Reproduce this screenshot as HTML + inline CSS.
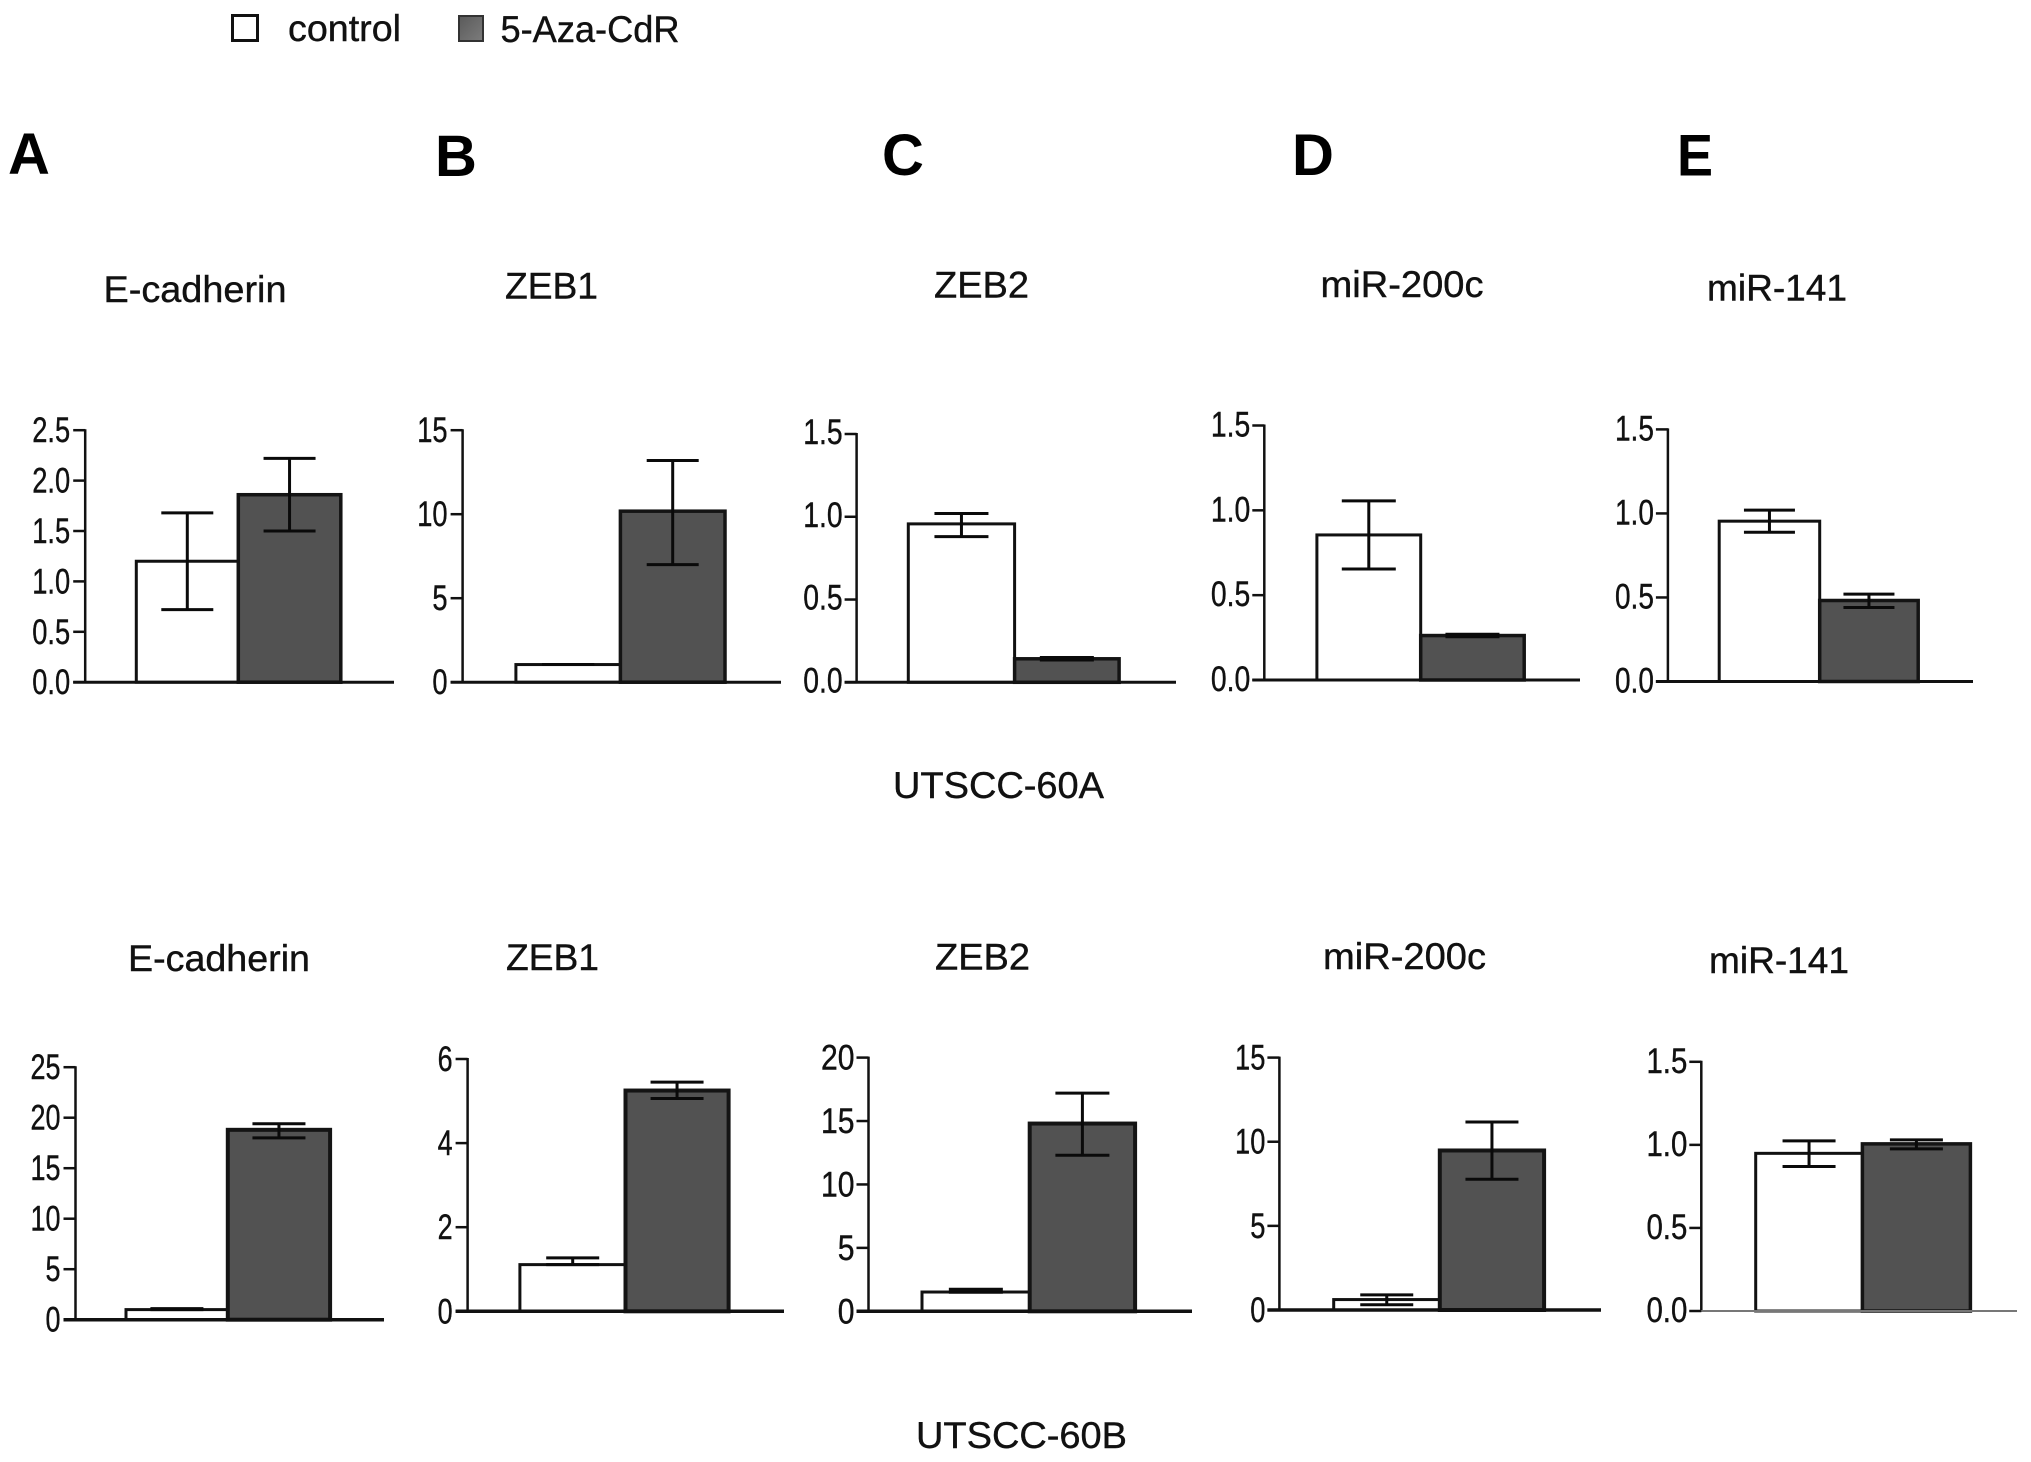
<!DOCTYPE html>
<html lang="en">
<head>
<meta charset="utf-8">
<title>E-cadherin, ZEB1, ZEB2, miR-200c and miR-141 expression</title>
<style>
  html, body { margin: 0; padding: 0; background: #fff; }
  svg { display: block; }
  text { font-family: "Liberation Sans", sans-serif; fill: #111; }
  .title { font-size: 37px; stroke: #111; stroke-width: 0.4px; }
  .letter { font-size: 58px; font-weight: bold; fill: #000; }
  .tick { font-size: 35px; text-anchor: end; stroke: #111; stroke-width: 0.4px; }
</style>
</head>
<body>
<svg id="chart" xmlns="http://www.w3.org/2000/svg" width="2031" height="1462" viewBox="0 0 2031 1462">
  <defs>
    <linearGradient id="swatch-fill" x1="0" y1="0" x2="1" y2="1">
      <stop offset="0" stop-color="#5a5a5a"/>
      <stop offset="1" stop-color="#7c7c7c"/>
    </linearGradient>
  </defs>
  <rect width="2031" height="1462" fill="#fff"/>

  <g>
    <rect x="232.5" y="15.5" width="25" height="25" fill="#fff" stroke="#111" stroke-width="3"/>
    <text class="title" x="288" y="41" textLength="113" lengthAdjust="spacingAndGlyphs">control</text>
    <rect x="459" y="16" width="24" height="25" fill="url(#swatch-fill)" stroke="#333" stroke-width="2"/>
    <text class="title" x="500.5" y="42" textLength="179" lengthAdjust="spacingAndGlyphs">5-Aza-CdR</text>
  </g>

  <text class="letter" x="8" y="174">A</text>
  <text class="letter" x="435" y="176">B</text>
  <text class="letter" x="882" y="175">C</text>
  <text class="letter" x="1292" y="175">D</text>
  <text class="letter" x="1677" y="175.5" textLength="36" lengthAdjust="spacingAndGlyphs">E</text>

  <text class="title" x="103.5" y="302" textLength="183" lengthAdjust="spacingAndGlyphs">E-cadherin</text>
  <text class="title" x="505" y="298.5" textLength="93" lengthAdjust="spacingAndGlyphs">ZEB1</text>
  <text class="title" x="934" y="297.5" textLength="95" lengthAdjust="spacingAndGlyphs">ZEB2</text>
  <text class="title" x="1320.5" y="297" textLength="163" lengthAdjust="spacingAndGlyphs">miR-200c</text>
  <text class="title" x="1707" y="300.5" textLength="140" lengthAdjust="spacingAndGlyphs">miR-141</text>
  <text class="title" x="893" y="798" textLength="211" lengthAdjust="spacingAndGlyphs">UTSCC-60A</text>

  <text class="title" x="128" y="971" textLength="182" lengthAdjust="spacingAndGlyphs">E-cadherin</text>
  <text class="title" x="506" y="970" textLength="93" lengthAdjust="spacingAndGlyphs">ZEB1</text>
  <text class="title" x="935" y="969.5" textLength="95" lengthAdjust="spacingAndGlyphs">ZEB2</text>
  <text class="title" x="1323" y="969" textLength="163" lengthAdjust="spacingAndGlyphs">miR-200c</text>
  <text class="title" x="1709" y="973" textLength="140" lengthAdjust="spacingAndGlyphs">miR-141</text>
  <text class="title" x="916" y="1448" textLength="211" lengthAdjust="spacingAndGlyphs">UTSCC-60B</text>
</svg>

<script>
// ---- Data ----
const panelNames = ['e-cadherin-60a', 'zeb1-60a', 'zeb2-60a', 'mir-200c-60a', 'mir-141-60a',
                    'e-cadherin-60b', 'zeb1-60b', 'zeb2-60b', 'mir-200c-60b', 'mir-141-60b'];
const axisMaxima = [2.5, 15, 1.5, 1.5, 1.5, 25, 6, 20, 15, 1.5];
const tickLabels = [
  ['0.0', '0.5', '1.0', '1.5', '2.0', '2.5'],
  ['0', '5', '10', '15'],
  ['0.0', '0.5', '1.0', '1.5'],
  ['0.0', '0.5', '1.0', '1.5'],
  ['0.0', '0.5', '1.0', '1.5'],
  ['0', '5', '10', '15', '20', '25'],
  ['0', '2', '4', '6'],
  ['0', '5', '10', '15', '20'],
  ['0', '5', '10', '15'],
  ['0.0', '0.5', '1.0', '1.5']
];
const controlMeans   = [1.2, 1.05, 0.957, 0.855, 0.954, 1.0, 1.11, 1.52, 0.62, 0.949];
const controlUpper   = [1.68, 1.05, 1.02, 1.056, 1.02, 1.1, 1.27, 1.74, 0.9, 1.024];
const controlLower   = [0.72, 1.05, 0.88, 0.654, 0.888, 1.0, 1.11, 1.5, 0.31, 0.87];
const treatedMeans   = [1.86, 10.18, 0.142, 0.262, 0.482, 18.8, 5.25, 14.8, 9.48, 1.006];
const treatedUpper   = [2.22, 13.2, 0.15, 0.27, 0.52, 19.4, 5.45, 17.2, 11.17, 1.03];
const treatedLower   = [1.5, 7.0, 0.135, 0.255, 0.44, 18.0, 5.06, 12.3, 7.77, 0.976];

// ---- Page layout for each small multiple (not data) ----
const frames = [
  { axisX: 85.2,   top: 430.2,  bottom: 682.2,  lineEnd: 394,    barL: 136.3,  barM: 238.3,  barR: 340.8,  squeeze: 0.78, labelDx: 0, labelDy: 12, caps: 52, lw: 3 },
  { axisX: 462.6,  top: 430.2,  bottom: 682.2,  lineEnd: 781,    barL: 515.9,  barM: 620.4,  barR: 725,    squeeze: 0.78, labelDx: 0, labelDy: 12, caps: 52, lw: 3 },
  { axisX: 856.6,  top: 434,    bottom: 682.3,  lineEnd: 1176,   barL: 908.3,  barM: 1014.6, barR: 1119.1, squeeze: 0.81, labelDx: 1, labelDy: 10, caps: 54, lw: 3 },
  { axisX: 1264.3, top: 425.5,  bottom: 680,    lineEnd: 1580,   barL: 1316.9, barM: 1420.7, barR: 1524.2, squeeze: 0.81, labelDx: 1, labelDy: 11, caps: 54, lw: 3 },
  { axisX: 1667.9, top: 429.4,  bottom: 681.5,  lineEnd: 1973,   barL: 1719.2, barM: 1819.7, barR: 1918.2, squeeze: 0.80, labelDx: 1, labelDy: 11, caps: 51, lw: 3 },
  { axisX: 75.5,   top: 1067.2, bottom: 1319.7, lineEnd: 384,    barL: 126,    barM: 227.8,  barR: 330.1,  squeeze: 0.77, labelDx: 0, labelDy: 12, caps: 53, lw: 3.5 },
  { axisX: 467.6,  top: 1059,   bottom: 1311.3, lineEnd: 784,    barL: 519.9,  barM: 625.5,  barR: 728.6,  squeeze: 0.77, labelDx: 0, labelDy: 12, caps: 53, lw: 3.5 },
  { axisX: 868.5,  top: 1057.6, bottom: 1311.3, lineEnd: 1192,   barL: 922,    barM: 1029.7, barR: 1135.1, squeeze: 0.86, labelDx: 1, labelDy: 12, caps: 54, lw: 3.5 },
  { axisX: 1279.4, top: 1057.6, bottom: 1310,   lineEnd: 1601,   barL: 1333.7, barM: 1439.8, barR: 1544.1, squeeze: 0.78, labelDx: 1, labelDy: 12, caps: 53, lw: 3.5 },
  { axisX: 1701.3, top: 1061.8, bottom: 1311,   lineEnd: 2017,   barL: 1755.7, barM: 1862.4, barR: 1970.4, squeeze: 0.84, labelDx: 1, labelDy: 11, caps: 53, lw: 3 }
];

const svgNS = 'http://www.w3.org/2000/svg';
const root = document.getElementById('chart');

function make(tag, attrs, parent) {
  const el = document.createElementNS(svgNS, tag);
  for (const key in attrs) el.setAttribute(key, attrs[key]);
  parent.appendChild(el);
  return el;
}

function drawErrorBar(group, x, capWidth, yHigh, yLow, width, name) {
  const bar = make('g', { stroke: '#0a0a0a', 'stroke-width': width, fill: 'none' }, group);
  
  
  make('line', { x1: x, x2: x, y1: yHigh, y2: yLow }, bar);
  make('line', { x1: x - capWidth / 2, x2: x + capWidth / 2, y1: yHigh, y2: yHigh }, bar);
  make('line', { x1: x - capWidth / 2, x2: x + capWidth / 2, y1: yLow, y2: yLow }, bar);
}

panelNames.forEach(function (panelName, i) {
  const f = frames[i];
  const maxValue = axisMaxima[i];
  const yScale = function (v) { return f.bottom - (v / maxValue) * (f.bottom - f.top); };
  const labels = tickLabels[i];
  const tickLeft = f.axisX - 12;

  const group = make('g', {}, root);
  
  

  // Control bar
  const controlBar = make('rect', {
    x: f.barL, y: yScale(controlMeans[i]),
    width: f.barM - f.barL, height: f.bottom - yScale(controlMeans[i]),
    fill: '#fff', stroke: '#111', 'stroke-width': 3
  }, group);
  
  

  // Treated bar
  const treatedBar = make('rect', {
    x: f.barM, y: yScale(treatedMeans[i]),
    width: f.barR - f.barM, height: f.bottom - yScale(treatedMeans[i]),
    fill: '#525252', stroke: '#141414', 'stroke-width': f.lw + 0.5
  }, group);
  
  

  // Error bars
  drawErrorBar(group, (f.barL + f.barM) / 2, f.caps, yScale(controlUpper[i]), yScale(controlLower[i]), 3, 'error-bar-control-' + panelName);
  drawErrorBar(group, (f.barM + f.barR) / 2, f.caps, yScale(treatedUpper[i]), yScale(treatedLower[i]), 3, 'error-bar-treated-' + panelName);

  // Axes
  const yAxis = make('line', { x1: f.axisX, x2: f.axisX, y1: f.top - 1, y2: f.bottom, stroke: '#111', 'stroke-width': 2.5 }, group);
  
  
  const xAxis = make('line', { x1: tickLeft, x2: f.lineEnd, y1: f.bottom, y2: f.bottom, stroke: i === 9 ? '#777' : '#111', 'stroke-width': i === 9 ? 2 : f.lw }, group);
  
  

  // Ticks and labels
  labels.forEach(function (label) {
    const y = yScale(parseFloat(label));
    const tick = make('line', { x1: tickLeft, x2: f.axisX, y1: y, y2: y, stroke: '#111', 'stroke-width': 2.5 }, group);
    
    
    const text = make('text', { class: 'tick', transform: 'translate(' + (tickLeft - 3 + f.labelDx) + ',' + (y + f.labelDy) + ') scale(' + f.squeeze + ',1)' }, group);
    
    
    text.textContent = label;
  });
});
</script>
</body>
</html>
